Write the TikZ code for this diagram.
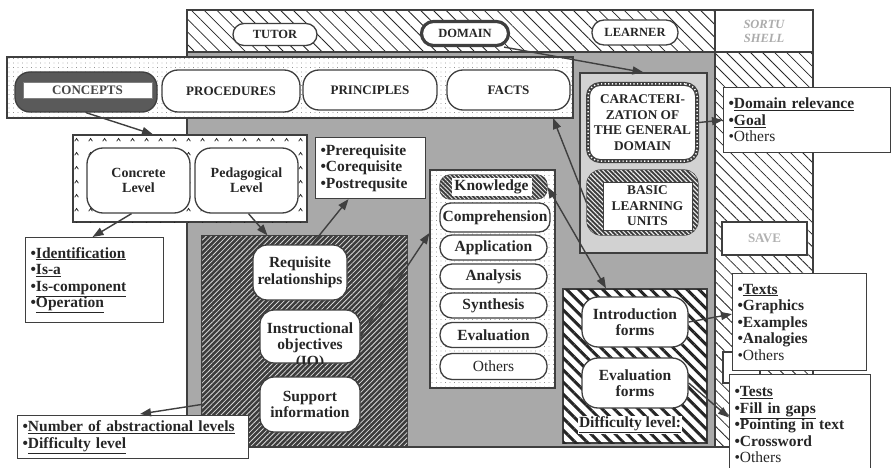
\documentclass[tikz,border=0pt]{standalone}
\usepackage{fontspec}
\setmainfont{Liberation Serif}
\usetikzlibrary{patterns,patterns.meta,arrows.meta}
\definecolor{ink}{HTML}{262626}
\definecolor{dark}{HTML}{3F3F3F}
\definecolor{midgray}{HTML}{A9A9A9}
\definecolor{panelgray}{HTML}{D2D2D2}
\definecolor{concgray}{HTML}{5A5A5A}
\definecolor{hatchdark}{HTML}{3C3C3C}
\pgfdeclarepatternformonly{carets}{\pgfqpoint{0pt}{0pt}}{\pgfqpoint{14pt}{14pt}}{\pgfqpoint{14pt}{14pt}}{%
  \pgfsetlinewidth{0.8pt}%
  \pgfpathmoveto{\pgfqpoint{5pt}{5pt}}%
  \pgfpathlineto{\pgfqpoint{7pt}{8pt}}%
  \pgfpathlineto{\pgfqpoint{9pt}{5pt}}%
  \pgfusepath{stroke}}
\newcommand\fsbody{\fontsize{15.5}{16.5}\selectfont\bfseries}
\newcommand\fsrow{\fontsize{13}{15}\selectfont\bfseries}
\newcommand\fstop{\fontsize{12.5}{14}\selectfont\bfseries}
\newcommand\fscap{\fontsize{13.3}{15.6}\selectfont\bfseries}
\newcommand\fslev{\fontsize{14}{15}\selectfont\bfseries}
\begin{document}
\begin{tikzpicture}[x=1pt,y=-1pt,
  frame/.style={draw=dark,line width=1.2pt},
  pill/.style={draw=dark,line width=1.3pt,fill=white,rounded corners=#1,inner sep=0pt,align=center,text=ink},
  pill/.default=12pt,
  infobox/.style={draw=dark,line width=1.1pt,fill=white,anchor=north west,inner xsep=5pt,inner ysep=0pt,align=left,text=ink,font=\fsbody},
  conn/.style={draw=dark,line width=1.4pt,-{Triangle[length=11pt,width=8pt]}},
  dotfill/.style={postaction={pattern={Dots[distance=4.5pt,radius=0.45pt]},pattern color=gray!70!black}},
  plainbox/.style={draw=dark,line width=1.2pt,inner sep=0pt}
]
\useasboundingbox (0,0) rectangle (891,468);
\fill[white] (0,0) rectangle (891,468);
% ---- main window
\fill[midgray] (187,52) rectangle (715,447);
\path[pattern={Lines[angle=-45,distance=9pt,line width=0.8pt]},pattern color=ink] (187,10) rectangle (715,52);
\path[pattern={Lines[angle=-45,distance=8.5pt,line width=0.8pt]},pattern color=ink] (715,52) rectangle (813,447);
\draw[frame] (187,10) rectangle (813,447);
\draw[frame] (187,52) -- (813,52);
\draw[frame] (715,10) -- (715,447);
\node[font=\fstop\itshape,text=gray!65,align=center,inner sep=0pt] (sortu) at (764,31) {SORTU\\SHELL};
% ---- top pills
\node[pill=11pt,minimum width=84pt,minimum height=22pt,font=\fstop] (tutor) at (275,34.5) {TUTOR};
\node[pill=12pt,line width=3.2pt,minimum width=87pt,minimum height=24pt,font=\fstop] (domain) at (465,33.5) {DOMAIN};
\node[pill=12pt,minimum width=86pt,minimum height=25pt,font=\fstop] (learner) at (635,32.5) {LEARNER};
% ---- knowledge type row
\node[plainbox,fill=white,dotfill,minimum width=566pt,minimum height=61pt] (rowbox) at (290,87.5) {};
\node[pill=15pt,fill=concgray,minimum width=142pt,minimum height=40pt] (concepts) at (86,92) {};
\node[draw=gray,line width=0.8pt,fill=white,minimum width=129pt,minimum height=16pt,inner sep=0pt,font=\fsrow,text=ink!85] (conceptslbl) at (87.5,90) {CONCEPTS};
\node[pill=16pt,minimum width=138pt,minimum height=42pt,font=\fsrow] (procedures) at (231,91) {PROCEDURES};
\node[pill=16pt,minimum width=134pt,minimum height=40pt,font=\fsrow] (principles) at (370,90) {PRINCIPLES};
\node[pill=16pt,minimum width=123pt,minimum height=40pt,font=\fsrow] (facts) at (508.5,90) {FACTS};
% ---- levels
\node[plainbox,fill=white,postaction={pattern=carets,pattern color=ink},minimum width=234pt,minimum height=87pt] (conccont) at (190,178.5) {};
\node[pill=16pt,minimum width=103pt,minimum height=65pt,font=\fslev] (concrete) at (138.5,180.5) {Concrete\\Level};
\node[pill=16pt,minimum width=103pt,minimum height=65pt,font=\fslev] (pedag) at (246.5,180.5) {Pedagogical\\Level};
\node[infobox,text width=128pt,minimum height=85pt] (ident) at (25,237) {•\underline{Identification}\\•\underline{Is-a}\\•\underline{Is-component}\\•\underline{Operation}};
% ---- pedagogical hatched box
\node[plainbox,fill=hatchdark,postaction={pattern={Lines[angle=45,distance=3.6pt,line width=0.8pt]},pattern color=white!70!gray},minimum width=205pt,minimum height=209pt] (hbox) at (304.5,340.5) {};
\node[pill=14pt,minimum width=94pt,minimum height=55pt,font=\fsbody] (requis) at (300,272.5) {Requisite\\relationships};
\node[pill=14pt,minimum width=100pt,minimum height=53pt] (instr) at (310,336.5) {};
\begin{scope}
\clip[rounded corners=14pt] (260,310) rectangle (360,363);
\node[font=\fsbody,text=ink,align=center,inner sep=0pt] (instrtxt) at (310,346) {Instructional\\objectives\\(IO)};
\end{scope}
\node[pill=14pt,minimum width=100pt,minimum height=55pt,font=\fsbody] (support) at (310,404.5) {Support\\information};
\node[infobox,text width=100pt,minimum height=61pt] (prereq) at (315,137) {•Prerequisite\\•Corequisite\\•Postrequsite};
% ---- objective list
\node[plainbox,fill=white,dotfill,minimum width=125pt,minimum height=218pt] (lbox) at (492.5,279) {};
\node[draw=dark,line width=1.2pt,rounded corners=10pt,fill=hatchdark,postaction={pattern={Lines[angle=-45,distance=3pt,line width=0.9pt]},pattern color=white!80!gray},minimum width=107pt,minimum height=24pt,inner sep=0pt] (knowouter) at (493.5,187) {};
\node[fill=white,minimum width=80pt,minimum height=18pt,inner sep=0pt,font=\fsbody,text=ink] (knowledge) at (491.5,187) {Knowledge};
\node[pill=11pt,minimum width=110pt,minimum height=29pt,font=\fsbody] (compr) at (495,217.5) {Comprehension};
\node[pill=12pt,minimum width=107pt,minimum height=25pt,font=\fsbody] (appl) at (493.5,247.5) {Application};
\node[pill=12pt,minimum width=107pt,minimum height=25pt,font=\fsbody] (anal) at (493.5,276.5) {Analysis};
\node[pill=12pt,minimum width=107pt,minimum height=25pt,font=\fsbody] (synth) at (493.5,305.5) {Synthesis};
\node[pill=12pt,minimum width=107pt,minimum height=25pt,font=\fsbody] (evalu) at (493.5,335) {Evaluation};
\node[pill=12pt,minimum width=107pt,minimum height=26pt,font=\fsbody\mdseries] (others) at (493.5,366.5) {Others};
% ---- domain panel
\node[plainbox,fill=panelgray,minimum width=127pt,minimum height=180pt] (panel) at (643.5,163) {};
\node[pill=12pt,line width=4pt,minimum width=109pt,minimum height=77pt,font=\fscap,postaction={draw=white,line width=1.5pt,dash pattern=on 1.2pt off 2.4pt}] (caract) at (642.5,122.5) {CARACTERI-\\ZATION OF\\THE GENERAL\\DOMAIN};
\node[draw=dark,line width=1.2pt,rounded corners=14pt,fill=hatchdark,postaction={pattern={Lines[angle=-45,distance=3.2pt,line width=1.1pt]},pattern color=white!85!gray},minimum width=111pt,minimum height=65pt,inner sep=0pt] (basicouter) at (642.5,202.5) {};
\node[draw=dark,line width=0.8pt,fill=white,minimum width=89pt,minimum height=48pt,inner sep=0pt,font=\fscap,align=center,text=ink] (basic) at (647.5,206) {BASIC\\LEARNING\\UNITS};
% ---- right side
\node[infobox,text width=157pt,minimum height=65pt] (drbox) at (723,87) {•\underline{Domain relevance}\\•\underline{Goal}\\{\mdseries •Others}};
\node[plainbox,line width=1.1pt,fill=white,minimum width=85pt,minimum height=33pt,font=\fsrow,text=gray!60] (save) at (764.5,238.5) {SAVE};
\draw[draw=dark,line width=1.1pt,fill=white] (723,352) rectangle (760,383);
\node[infobox,text width=124pt,minimum height=97pt] (textsbox) at (732,273) {•\underline{Texts}\\•Graphics\\•Examples\\•Analogies\\{\mdseries •Others}};
\node[infobox,text width=131pt,minimum height=100pt] (testsbox) at (729,374) {•\underline{Tests}\\•\underline{Fill in gaps}\\•Pointing in text\\•Crossword\\{\mdseries •Others}};
% ---- forms box
\node[draw=dark,line width=1.4pt,fill=white,postaction={pattern={Lines[angle=-45,distance=8.5pt,line width=3pt]},pattern color=ink},minimum width=144pt,minimum height=154pt,inner sep=0pt] (ibox) at (635,366) {};
\node[pill=16pt,minimum width=106pt,minimum height=50pt,font=\fsbody] (introf) at (635,322) {Introduction\\forms};
\node[pill=16pt,minimum width=106pt,minimum height=50pt,font=\fsbody] (evalf) at (635,383) {Evaluation\\forms};
\node[fill=white,inner sep=1pt,font=\fsbody,text=ink] (difflvl) at (630,425) {\underline{Difficulty level:}};
% ---- bottom left
\node[infobox,text width=221pt,minimum height=43pt] (numbox) at (17,415) {•\underline{Number of abstractional levels}\\•\underline{Difficulty level}};
% ---- connectors
\coordinate (factsHit) at (553,118);
\coordinate (numtip) at (140,414);
\draw[conn] ([xshift=-6pt]domain.south east) -- (panel.north);
\draw[conn] (concepts.south) -- ([xshift=-37pt]conccont.north);
\draw[conn] ([xshift=-7pt]concrete.south) -- ([xshift=-2pt]ident.north);
\draw[conn] ([xshift=2pt]pedag.south) -- ([xshift=-37pt]hbox.north);
\draw[conn] ([xshift=12pt]requis.north) -- ([xshift=-22pt]prereq.south);
\draw[conn] (instr.east) -- ([yshift=46pt]lbox.west);
\draw[conn] (hbox.west |- support) -- (numtip);
\draw[conn,{Triangle[length=11pt,width=8pt]}-{Triangle[length=11pt,width=8pt]}] (knowouter.east) -- ([xshift=-29pt]ibox.north);
\draw[conn] (basicouter.west) -- (factsHit);
\draw[conn] (caract.east) -- (drbox.west);
\draw[conn] (introf.east) -- ([yshift=8pt]textsbox.west);
\draw[conn] (evalf.east) -- ([yshift=7pt]testsbox.west);
\end{tikzpicture}
\end{document}
